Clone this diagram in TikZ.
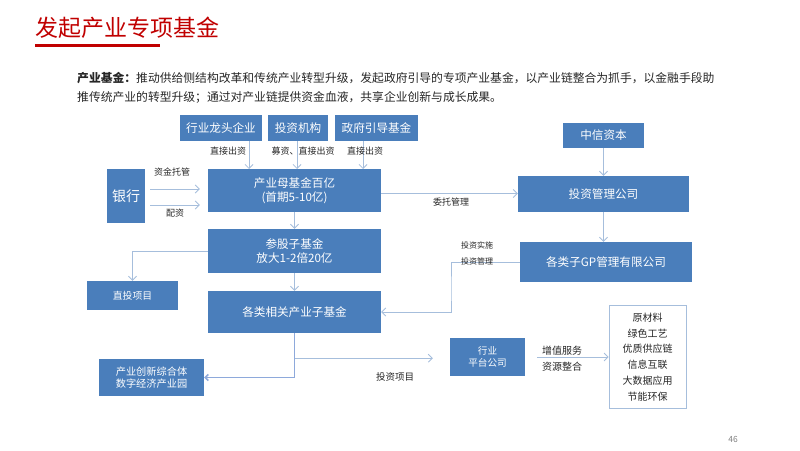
\documentclass[tikz,border=0pt]{standalone}
\usepackage{fontspec}
\setmainfont{Noto Sans CJK SC}
\usetikzlibrary{positioning, arrows.meta}
\definecolor{boxblue}{RGB}{74,126,187}
\definecolor{arrowgray}{RGB}{166,190,220}
\definecolor{linkblue}{RGB}{142,169,219}
\definecolor{titlered}{RGB}{192,0,0}
\definecolor{textdark}{RGB}{38,38,38}
\begin{document}
\begin{tikzpicture}[x=1pt, y=-1pt,
    box/.style={fill=boxblue, text=white, inner sep=0pt, align=center, font=\fontsize{11.6}{14}\selectfont},
    note/.style={text=textdark, inner sep=0pt, font=\fontsize{9}{10}\selectfont},
    flow/.style={draw=arrowgray, line width=0.8pt, -{Straight Barb[length=4pt, width=8pt]}}]
\useasboundingbox (0,0) rectangle (800,450);

% title and intro
\node[anchor=west, inner sep=0pt, text=titlered, font=\fontsize{23}{26}\selectfont] (title) at (35,28) {发起产业专项基金};
\node[anchor=north west, inner sep=0pt, fill=titlered, minimum width=125pt, minimum height=3.5pt] (bar) at (35,43.5) {};
\node[anchor=west, inner sep=0pt, text=textdark, font=\fontsize{11.8}{14}\selectfont] (intro1) at (77,78)
    {\textbf{产业基金：}推动供给侧结构改革和传统产业转型升级，发起政府引导的专项产业基金，以产业链整合为抓手，以金融手段助};
\node[anchor=west, inner sep=0pt, text=textdark, font=\fontsize{11.8}{14}\selectfont] (intro2) at (77,97)
    {推传统产业的转型升级；通过对产业链提供资金血液，共享企业创新与成长成果。};

% boxes
\node[box, minimum width=82pt, minimum height=26pt] (lead) at (221,128) {行业龙头企业};
\node[box, minimum width=60pt, minimum height=26pt] (inst) at (298,128) {投资机构};
\node[box, minimum width=83pt, minimum height=26pt] (gov) at (376.5,128) {政府引导基金};
\node[box, minimum width=173pt, minimum height=43pt] (mother) at (294.5,190.5) {产业母基金百亿\\(首期5-10亿)};
\node[box, minimum width=38pt, minimum height=54pt, font=\fontsize{14}{16}\selectfont] (bank) at (126,196) {银行};
\node[box, minimum width=173pt, minimum height=44pt] (sub) at (294.5,251) {参股子基金\\放大1-2倍20亿};
\node[box, minimum width=91pt, minimum height=29pt, font=\fontsize{9.8}{12}\selectfont] (direct) at (132.5,295.5) {直投项目};
\node[box, minimum width=173pt, minimum height=42pt] (rel) at (294.5,312) {各类相关产业子基金};
\node[box, minimum width=105pt, minimum height=37pt, font=\fontsize{10.2}{12.5}\selectfont] (park) at (151.5,377.5) {产业创新综合体\\数字经济产业园};
\node[box, minimum width=81pt, minimum height=25pt] (citic) at (603.5,135.5) {中信资本};
\node[box, minimum width=171pt, minimum height=36pt] (mgmt) at (603.5,194) {投资管理公司};
\node[box, minimum width=172pt, minimum height=40pt] (gp) at (606,262) {各类子GP管理有限公司};
\node[box, minimum width=75pt, minimum height=38pt, font=\fontsize{9.6}{12}\selectfont] (plat) at (487.5,357) {行业\\平台公司};
\node[draw=arrowgray, line width=0.8pt, fill=white, text=textdark, inner sep=0pt, align=center,
    minimum width=77pt, minimum height=103pt, font=\fontsize{10}{15.7}\selectfont] (list) at (647.5,357)
    {原材料\\绿色工艺\\优质供应链\\信息互联\\大数据应用\\节能环保};

% connectors
\coordinate (in1) at (249,169);
\coordinate (in2) at (297,169);
\coordinate (in3) at (363,169);
\draw[flow] (lead.south -| in1) -- (in1);
\draw[flow] (inst.south -| in2) -- (in2);
\draw[flow] (gov.south -| in3) -- (in3);
\node[note] (l1) at (228,151) {直接出资};
\node[note] (l2) at (303,151) {募资、直接出资};
\node[note] (l3) at (365,151) {直接出资};

\draw[flow] ([xshift=5pt, yshift=7pt]bank.east) -- ([xshift=-8pt, yshift=1.5pt]mother.west);
\draw[flow] ([xshift=5pt, yshift=-9pt]bank.east) -- ([xshift=-8pt, yshift=-14.5pt]mother.west);
\node[note] (l4) at (172,172) {资金托管};
\node[note] (l5) at (175,213) {配资};

\draw[flow] ([yshift=-3pt]mother.east) -- ([yshift=-3pt]mother.east -| mgmt.west);
\node[note] (l6) at (451,202) {委托管理};
\draw[flow] (citic.south) -- (mgmt.north);
\draw[flow] (mgmt.south) -- (mgmt.south |- gp.north);

\draw[flow] (mother.south) -- (sub.north);
\draw[flow] (sub.south) -- (rel.north);
\draw[flow] (sub.west) -| (direct.north);

\coordinate (gpturn) at (451,290);
\draw[flow] (gp.west) -| (gpturn) |- (rel.east);
\node[note, font=\fontsize{8}{9}\selectfont] (l7) at (477,245) {投资实施};
\node[note, font=\fontsize{8}{9}\selectfont] (l8) at (477,261) {投资管理};

\draw[draw=linkblue, line width=1.6pt, -{Straight Barb[length=3pt, width=6pt]}] (rel.south) |- (park.east);
\path (rel.south) ++(0,25) coordinate (branch);
\draw[flow] (branch) -- ([xshift=-17pt]branch -| plat.west);
\node[note, font=\fontsize{9.5}{11}\selectfont] (l9) at (395,377) {投资项目};

\draw[flow] ([xshift=12pt]plat.east) -- (list.west);
\node[note, font=\fontsize{10}{12}\selectfont] (l10) at (562,351) {增值服务};
\node[note, font=\fontsize{10}{12}\selectfont] (l11) at (562,367) {资源整合};

\node[text=gray, inner sep=0pt, font=\fontsize{8.5}{10}\selectfont] (page) at (733,439) {46};
\end{tikzpicture}
\end{document}
